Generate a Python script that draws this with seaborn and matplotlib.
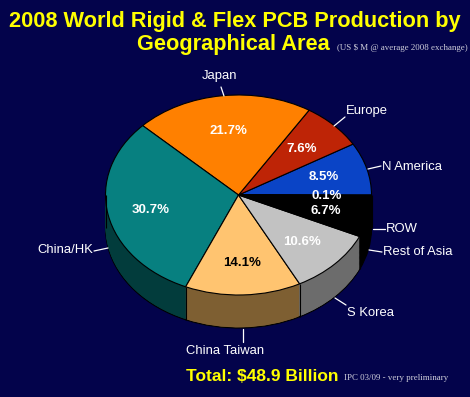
import numpy as np
import pandas as pd
import seaborn as sns
import matplotlib
matplotlib.use("Agg")
import matplotlib.pyplot as plt

# ---------------- data ----------------
regions = ["N America", "Europe", "Japan", "China/HK", "China Taiwan",
           "S Korea", "Rest of Asia", "ROW"]
shares = [8.5, 7.6, 21.7, 30.7, 14.1, 10.6, 6.7, 0.1]
title_line1 = "2008 World Rigid & Flex PCB Production by"
title_line2 = "Geographical Area"
subtitle = "(US $ M @ average 2008 exchange)"
total_text = "Total: $48.9 Billion"
source_text = "IPC 03/09 - very preliminary"

df = pd.DataFrame({"region": regions, "share": shares})
df["pct"] = df["share"].map(lambda v: f"{v:.1f}%")

# ---------------- style ----------------
BG = "#03034B"
top_colors = ["#0A44C6", "#BE2406", "#FF8000", "#078080", "#FFC470",
              "#C2C2C2", "#000000", "#101010"]
side_colors = ["#052262", "#601203", "#804000", "#023C3C", "#7E5F32",
               "#6C6C6C", "#000000", "#000000"]
pct_colors = ["white", "white", "white", "white", "black", "white", "white", "white"]

sns.set_theme(style="white")
plt.rcParams["font.family"] = ["Liberation Sans", "DejaVu Sans"]

W, H = 470, 397
CX, CY, RX, RY, DEPTH_PX = 238.5, 195.0, 133.0, 100.0, 33.0
depth = DEPTH_PX / RY


def px(x, y):
    return (x - CX) / RX, (CY - y) / RY


fig = plt.figure(figsize=(W / 100, H / 100), dpi=100, facecolor=BG)
ax = fig.add_axes([0, 0, 1, 1])
ax.set_facecolor(BG)

# side walls: stacked pies from bottom to top
offsets = np.linspace(-depth, 0, 40)
for i, off in enumerate(offsets[:-1]):
    ax.pie(df["share"], colors=side_colors, startangle=0, counterclock=True,
           center=(0, off), radius=1, frame=True,
           wedgeprops=dict(linewidth=0.8 if i == 0 else 0,
                           edgecolor="black", antialiased=True))

# vertical edges of front slice boundaries
bounds = np.deg2rad(np.concatenate([[0], np.cumsum(df["share"]) / 100 * 360]))
front = [a for a in bounds if np.sin(a) < -1e-6]
for a in front:
    ax.vlines(np.cos(a), np.sin(a) - depth, np.sin(a), color="black", lw=0.8)
ax.vlines([-1, 1], -depth, 0, color="black", lw=0.8)

# top face
ax.pie(df["share"], colors=top_colors, startangle=0, counterclock=True,
       center=(0, 0), radius=1, frame=True,
       wedgeprops=dict(linewidth=0.8, edgecolor="black"))

ax.set_aspect("auto")
ax.set_xlim((0 - CX) / RX, (W - CX) / RX)
ax.set_ylim((CY - H) / RY, CY / RY)
ax.axis("off")

# percent labels (pixel positions)
pct_pos = {
    "N America": (324, 177), "Europe": (302, 149), "Japan": (228, 131),
    "China/HK": (151, 210), "China Taiwan": (242, 263), "S Korea": (302, 242),
    "Rest of Asia": (326, 211), "ROW": (327, 196),
}
for reg, pct, col in zip(df["region"], df["pct"], pct_colors):
    x, y = px(*pct_pos[reg])
    ax.text(x, y, pct, color=col, fontsize=9.5, fontweight="bold",
            ha="center", va="center")

# outside labels: (text x, text y, ha, leader start, leader end)
lab = {
    "Japan": (220, 76, "center", (221, 87), (224, 96)),
    "Europe": (346, 111, "left", (345, 117), (334, 126)),
    "N America": (382, 167, "left", (368, 169), (381, 166)),
    "ROW": (386, 229, "left", (373, 229), (385, 229)),
    "Rest of Asia": (383, 252, "left", (369, 250), (382, 252)),
    "S Korea": (347, 313, "left", (335, 298), (346, 305)),
    "China Taiwan": (225, 351, "center", (243, 329), (243, 342)),
    "China/HK": (93, 250, "right", (94, 251), (108, 248)),
}
for reg in df["region"]:
    tx, ty, ha, p0, p1 = lab[reg]
    x, y = px(tx, ty)
    ax.text(x, y, reg, color="white", fontsize=9.4, ha=ha, va="center")
    (x0, y0), (x1, y1) = px(*p0), px(*p1)
    ax.plot([x0, x1], [y0, y1], color="white", lw=0.9)

# titles
fig.text(235 / W, 1 - 27 / H, title_line1, color="#FFFF00", fontsize=15.7,
         fontweight="bold", ha="center", va="baseline")
fig.text(137 / W, 1 - 50 / H, title_line2, color="#FFFF00", fontsize=15.7,
         fontweight="bold", ha="left", va="baseline")
fig.text(337 / W, 1 - 50 / H, subtitle, color="#D0D0DC", fontsize=6.4,
         family=["Liberation Serif", "DejaVu Serif"], ha="left", va="baseline")
fig.text(186 / W, 1 - 381 / H, total_text, color="#FFFF00", fontsize=12.5,
         fontweight="bold", ha="left", va="baseline")
fig.text(344 / W, 1 - 380 / H, source_text, color="#D0D0DC", fontsize=6.4,
         family=["Liberation Serif", "DejaVu Serif"], ha="left", va="baseline")

fig.savefig("out.png", dpi=100, facecolor=BG)
